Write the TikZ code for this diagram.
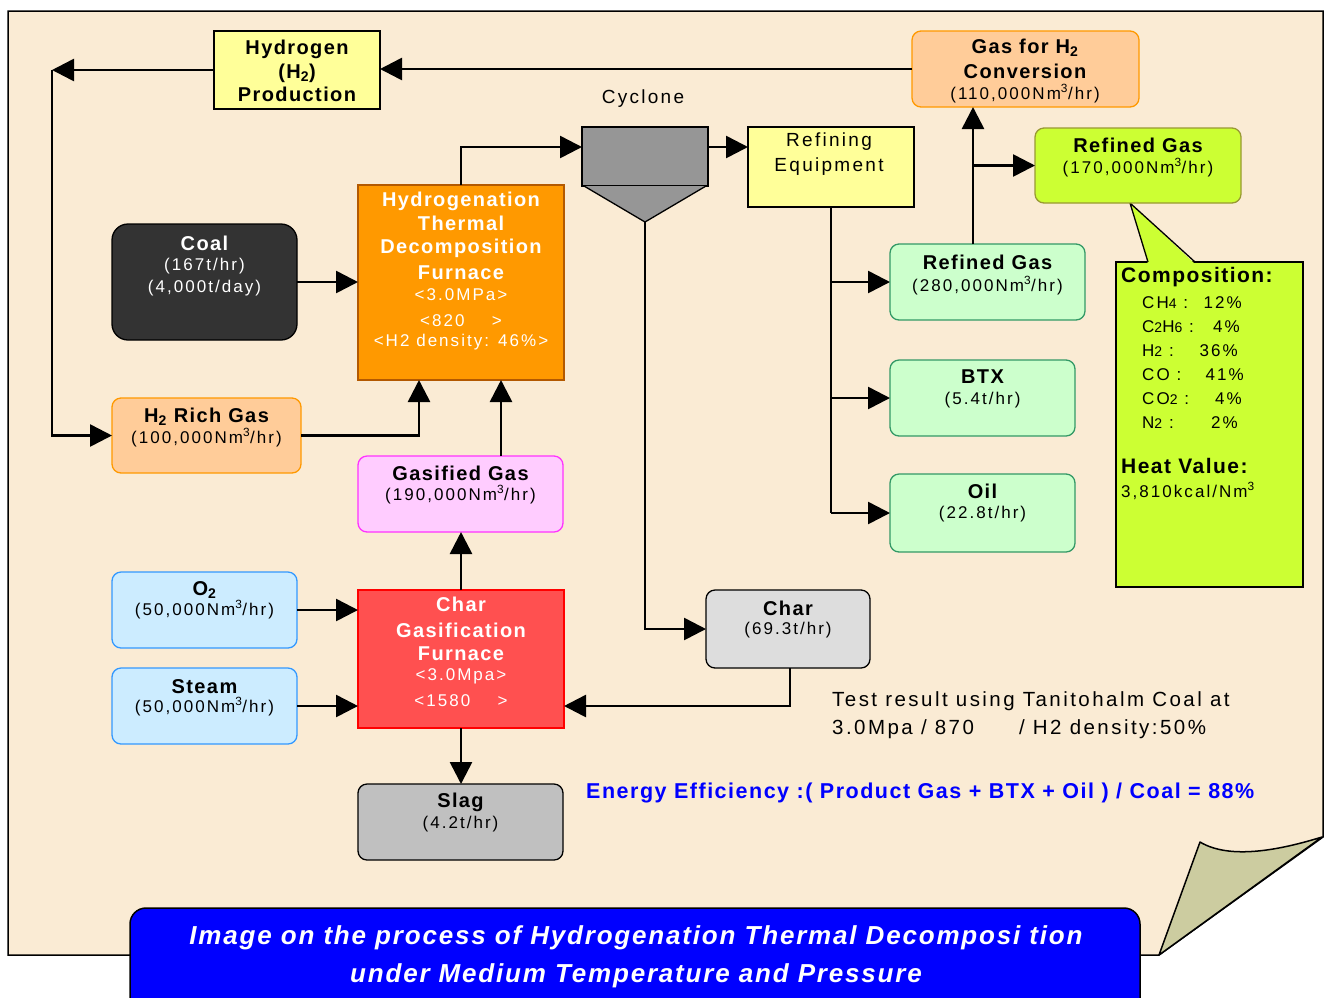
\documentclass[tikz,border=0pt]{standalone}
\usepackage{fontspec}
\setmainfont{Liberation Sans}
\newfontfamily\fsm{Liberation Sans}[LetterSpace=12]
\newfontfamily\fbd{Liberation Sans}[LetterSpace=7]
\usetikzlibrary{arrows.meta}
\definecolor{page}{HTML}{FAEBD4}
\definecolor{yel}{HTML}{FFFF99}
\definecolor{peach}{HTML}{FFCC99}
\definecolor{peachb}{HTML}{FF9900}
\definecolor{lime}{HTML}{CCFF33}
\definecolor{limeb}{HTML}{999933}
\definecolor{coalc}{HTML}{333333}
\definecolor{orng}{HTML}{FF9900}
\definecolor{orngb}{HTML}{B35900}
\definecolor{pink}{HTML}{FFCCFF}
\definecolor{pinkb}{HTML}{FF33FF}
\definecolor{lblue}{HTML}{CCECFF}
\definecolor{lblueb}{HTML}{3399FF}
\definecolor{redf}{HTML}{FF5050}
\definecolor{redb}{HTML}{FF0000}
\definecolor{slagc}{HTML}{C0C0C0}
\definecolor{charc}{HTML}{DDDDDD}
\definecolor{lgreen}{HTML}{CCFFCC}
\definecolor{lgreenb}{HTML}{339966}
\definecolor{cycc}{HTML}{969696}
\definecolor{foldc}{HTML}{CCCCA0}
\definecolor{bannerc}{HTML}{0000FF}
\newcommand\fsub[1]{{\fontsize{14}{14}\selectfont #1}}
\tikzset{
  bx/.style={draw, inner sep=0pt, outer sep=0pt, line width=1.3pt},
  rbx/.style={bx, rounded corners=9pt},
  tb/.style={font=\fbd\bfseries\fontsize{20}{24}\selectfont, anchor=base, inner sep=0pt},
  ts/.style={font=\fsm\fontsize{17}{20}\selectfont, anchor=base, inner sep=0pt},
  tm/.style={font=\fsm\fontsize{19}{22}\selectfont, anchor=base, inner sep=0pt},
  tt/.style={font=\fsm\fontsize{20.5}{24}\selectfont, anchor=base west, inner sep=0pt},
  tcb/.style={font=\fbd\bfseries\fontsize{21}{24}\selectfont, anchor=base west, inner sep=0pt},
  tc/.style={font=\fsm\fontsize{17}{20}\selectfont, anchor=base west, inner sep=0pt},
  tcv/.style={font=\fsm\fontsize{17}{20}\selectfont, anchor=base east, inner sep=0pt},
  arr/.style={line width=2.6pt, -{Triangle[length=22pt,width=22pt]}},
  ln/.style={line width=2.6pt}
}
\begin{document}
\begin{tikzpicture}[x=1pt,y=-1pt]
\useasboundingbox (0,0) rectangle (1327,997);
% page
\draw[fill=page, line width=1.5pt] (8,11) -- (1323,11) -- (1323,837) -- (1159,955) -- (8,955) -- cycle;
\draw[fill=foldc, line width=1.5pt, line join=round] (1159,955) -- (1200,842) .. controls (1230,860) and (1280,850) .. (1322,837) -- cycle;
% banner
\begin{scope}
\clip (0,0) rectangle (1327,997);
\draw[fill=bannerc, line width=1.5pt, rounded corners=16pt] (130,1030) -- (130,908) -- (1140,908) -- (1140,1030);
\end{scope}
\node[font=\fbd\bfseries\itshape\fontsize{26}{30}\selectfont, text=white, anchor=base, inner sep=0pt] (ban1) at (636,944) {Image on the process of Hydrogenation Thermal Decomposi tion};
\node[font=\fbd\bfseries\itshape\fontsize{26}{30}\selectfont, text=white, anchor=base, inner sep=0pt] (ban2) at (636,982) {under Medium Temperature and Pressure};

% boxes
\node[bx, fill=yel, minimum width=166pt, minimum height=78pt] (hyd) at (297,70) {};
\node[rbx, fill=peach, draw=peachb, minimum width=227pt, minimum height=76pt] (gash) at (1025.5,69) {};
\node[bx, fill=cycc, minimum width=126pt, minimum height=59pt] (cyc) at (645,156.5) {};
\draw[fill=cycc, line width=1.3pt, line join=round] (584,186) -- (645,222) -- (706,186);
\coordinate (cycb) at (645,222);
\node[bx, fill=yel, minimum width=166pt, minimum height=80pt] (refeq) at (831,167) {};
\node[bx, fill=lime, minimum width=187pt, minimum height=325pt] (comp) at (1209.5,424.5) {};
\fill[lime] (1130,203) -- (1148,264) -- (1195,264) -- cycle;
\draw[line width=1.3pt, line join=round] (1148,262) -- (1130,203) -- (1195,262);
\node[rbx, fill=lime, draw=limeb, minimum width=206pt, minimum height=75pt] (rgb) at (1138,165.5) {};
\node[bx, fill=coalc, rounded corners=16pt, minimum width=185pt, minimum height=116pt] (coal) at (204.5,282) {};
\node[bx, fill=orng, draw=orngb, minimum width=206pt, minimum height=195pt] (htdf) at (461,282.5) {};
\node[rbx, fill=peach, draw=peachb, minimum width=189pt, minimum height=75pt] (hrich) at (206.5,435.5) {};
\node[rbx, fill=pink, draw=pinkb, minimum width=205pt, minimum height=76pt] (gasf) at (460.5,494) {};
\node[rbx, fill=lblue, draw=lblueb, minimum width=185pt, minimum height=76pt] (oxy) at (204.5,610) {};
\node[rbx, fill=lblue, draw=lblueb, minimum width=185pt, minimum height=76pt] (steam) at (204.5,706) {};
\node[bx, fill=redf, draw=redb, minimum width=206pt, minimum height=138pt] (cgf) at (461,659) {};
\node[rbx, fill=slagc, minimum width=205pt, minimum height=76pt] (slag) at (460.5,822) {};
\node[rbx, fill=charc, minimum width=164pt, minimum height=78pt] (char) at (788,629) {};
\node[rbx, fill=lgreen, draw=lgreenb, minimum width=195pt, minimum height=76pt] (rga) at (987.5,282) {};
\node[rbx, fill=lgreen, draw=lgreenb, minimum width=185pt, minimum height=76pt] (btx) at (982.5,398) {};
\node[rbx, fill=lgreen, draw=lgreenb, minimum width=185pt, minimum height=78pt] (oil) at (982.5,513) {};

% texts
\node[tb] (hyd1) at (297,54) {Hydrogen};
\node[tb] (hyd2) at (297,78) {(H\textsubscript{2})};
\node[tb] (hyd3) at (297,101) {Production};
\node[tb] (gash1) at (1025,53) {Gas for H\textsubscript{2}};
\node[tb] (gash2) at (1025,78) {Conversion};
\node[ts] (gash3) at (1025,99) {(110,000Nm\textsuperscript{3}/hr)};
\node[tm] (cyct) at (643,103) {Cyclone};
\node[tm] (ref1) at (829,146) {Refining};
\node[tm] (ref2) at (829,171) {Equipment};
\node[tb] (rgb1) at (1138,152) {Refined Gas};
\node[ts] (rgb2) at (1138,173) {(170,000Nm\textsuperscript{3}/hr)};
\node[tcb] (c0) at (1121,282) {Composition:};
\node[tc] (c1) at (1142,308) {CH\fsub{4} :};
\node[tcv] (v1) at (1242,308) {12\%};
\node[tc] (c2) at (1142,332) {C\fsub{2}H\fsub{6} :};
\node[tcv] (v2) at (1240,332) {4\%};
\node[tc] (c3) at (1142,356) {H\fsub{2} :};
\node[tcv] (v3) at (1238,356) {36\%};
\node[tc] (c4) at (1142,380) {CO :};
\node[tcv] (v4) at (1244,380) {41\%};
\node[tc] (c5) at (1142,404) {CO\fsub{2} :};
\node[tcv] (v5) at (1242,404) {4\%};
\node[tc] (c6) at (1142,428) {N\fsub{2} :};
\node[tcv] (v6) at (1238,428) {2\%};
\node[tcb] (h0) at (1121,473) {Heat Value:};
\node[tc] (h1) at (1121,497) {3,810kcal/Nm\textsuperscript{3}};
\node[tb, text=white] (coal1) at (204.5,250) {Coal};
\node[ts, text=white] (coal2) at (204.5,270) {(167t/hr)};
\node[ts, text=white] (coal3) at (204.5,292) {(4,000t/day)};
\node[tb, text=white] (ht1) at (461,206) {Hydrogenation};
\node[tb, text=white] (ht2) at (461,230) {Thermal};
\node[tb, text=white] (ht3) at (461,253) {Decomposition};
\node[tb, text=white] (ht4) at (461,279) {Furnace};
\node[ts, text=white] (ht5) at (461,300) {<3.0MPa>};
\node[ts, text=white] (ht6) at (461,326) {<820\hspace{1.6em}>};
\node[ts, text=white] (ht7) at (461,346) {<H2 density: 46\%>};
\node[tb] (hr1) at (206.5,422) {H\textsubscript{2} Rich Gas};
\node[ts] (hr2) at (206.5,443) {(100,000Nm\textsuperscript{3}/hr)};
\node[tb] (gf1) at (460.5,480) {Gasified Gas};
\node[ts] (gf2) at (460.5,500) {(190,000Nm\textsuperscript{3}/hr)};
\node[tb] (ox1) at (204.5,595) {O\textsubscript{2}};
\node[ts] (ox2) at (204.5,615) {(50,000Nm\textsuperscript{3}/hr)};
\node[tb] (st1) at (204.5,693) {Steam};
\node[ts] (st2) at (204.5,712) {(50,000Nm\textsuperscript{3}/hr)};
\node[tb, text=white] (cg1) at (461,611) {Char};
\node[tb, text=white] (cg2) at (461,637) {Gasification};
\node[tb, text=white] (cg3) at (461,660) {Furnace};
\node[ts, text=white] (cg4) at (461,680) {<3.0Mpa>};
\node[ts, text=white] (cg5) at (461,706) {<1580\hspace{1.6em}>};
\node[tb] (sl1) at (460.5,807) {Slag};
\node[ts] (sl2) at (460.5,828) {(4.2t/hr)};
\node[tb] (ch1) at (788,615) {Char};
\node[ts] (ch2) at (788,634) {(69.3t/hr)};
\node[tb] (ra1) at (987.5,269) {Refined Gas};
\node[ts] (ra2) at (987.5,291) {(280,000Nm\textsuperscript{3}/hr)};
\node[tb] (bt1) at (982.5,383) {BTX};
\node[ts] (bt2) at (982.5,404) {(5.4t/hr)};
\node[tb] (oi1) at (982.5,498) {Oil};
\node[ts] (oi2) at (982.5,518) {(22.8t/hr)};
\node[tt] (test1) at (832,706) {Test result using Tanitohalm Coal at};
\node[tt] (test2) at (832,734) {3.0Mpa / 870\hspace{2.2em}/ H2 density:50\%};
\node[font=\fbd\bfseries\fontsize{21.5}{24}\selectfont, text=bannerc, anchor=base west, inner sep=0pt] (eff) at (586,798) {Energy Efficiency :( Product Gas + BTX + Oil ) / Coal = 88\%};

% connectors
\coordinate (tl) at (52,70);
\draw[arr] (gash.west) -- (gash.west -| hyd.east);
\draw[arr] (hyd.west) -- (tl);
\draw[arr] (tl) |- (hrich.west);
\draw[arr] (coal.east) -- (coal.east -| htdf.west);
\draw[arr] (hrich.east) -| ([xshift=-42pt]htdf.south);
\draw[arr] ([xshift=40.5pt]gasf.north) -- ([xshift=40.5pt]gasf.north |- htdf.south);
\draw[arr] (cgf.north) -- (cgf.north |- gasf.south);
\draw[arr] (oxy.east) -- (oxy.east -| cgf.west);
\draw[arr] (steam.east) -- (steam.east -| cgf.west);
\draw[arr] (cgf.south) -- (cgf.south |- slag.north);
\draw[arr] ([xshift=2pt]char.south) |- ([yshift=-47pt]cgf.east);
\draw[arr] (cycb) |- (char.west);
\draw[arr] (htdf.north) |- ([yshift=9.5pt]cyc.west);
\draw[arr] ([yshift=9.5pt]cyc.east) -- ([yshift=9.5pt]cyc.east -| refeq.west);
\draw[ln] (refeq.south) -- (refeq.south |- oil.west);
\draw[arr] (refeq.south |- rga.west) -- (rga.west);
\draw[arr] (refeq.south |- btx.west) -- (btx.west);
\draw[arr] (refeq.south |- oil.west) -- (oil.west);
\draw[arr] ([xshift=-14.5pt]rga.north) -- ([xshift=-14.5pt]rga.north |- gash.south);
\draw[arr] ([xshift=-14.5pt]rga.north |- rgb.west) -- (rgb.west);
\end{tikzpicture}
\end{document}
